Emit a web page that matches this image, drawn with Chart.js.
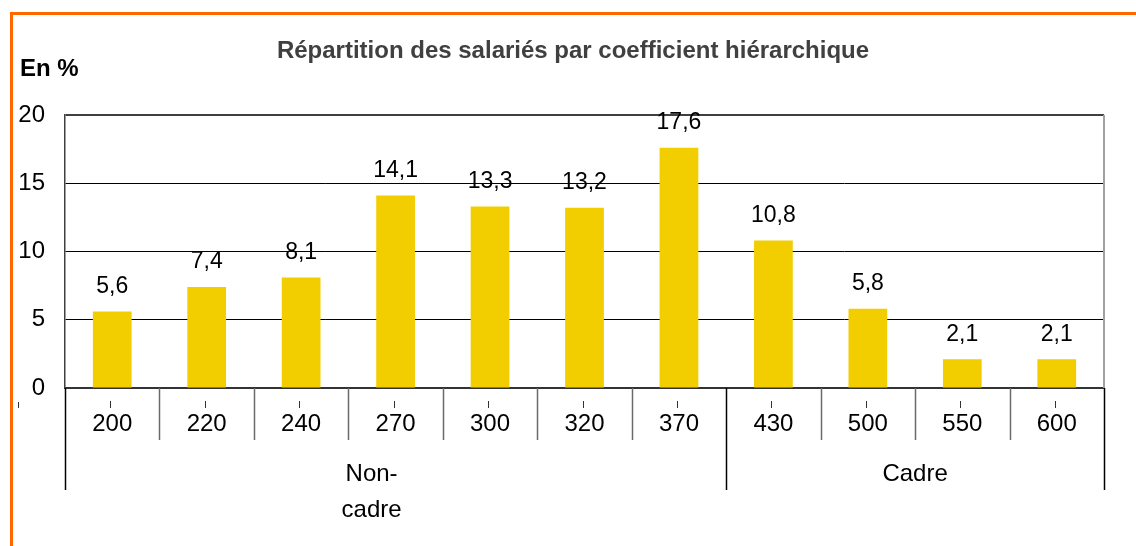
<!DOCTYPE html>
<html>
<head>
<meta charset="utf-8">
<script src="https://cdn.jsdelivr.net/npm/chart.js@4"></script>
<style>
  html, body { margin: 0; padding: 0; background: #fff; }
  canvas { display: block; }
</style>
</head>
<body>
<canvas id="chart" width="1136" height="546"></canvas>
<script>
const coefficients = ['200', '220', '240', '270', '300', '320', '370', '430', '500', '550', '600'];
const shares = [5.6, 7.4, 8.1, 14.1, 13.3, 13.2, 17.6, 10.8, 5.8, 2.1, 2.1];
const groupLabels = [['Non-', 'cadre'], ['Cadre']];
const groupSizes = [7, 4];
const yTicks = [0, 5, 10, 15, 20];

const FONT = 'Liberation Sans, Arial, sans-serif';

const decorations = {
  id: 'decorations',
  afterDraw(chart) {
    const { ctx, chartArea, scales } = chart;
    const xs = scales.x;
    const n = coefficients.length;

    // category boundaries under the axis
    const boundary = (i) => {
      if (i === 0) return xs.left;
      if (i === n) return xs.right;
      return (xs.getPixelForValue(i - 1) + xs.getPixelForValue(i)) / 2;
    };
    const groupEdges = [0];
    groupSizes.forEach((s) => groupEdges.push(groupEdges[groupEdges.length - 1] + s));

    ctx.save();
    ctx.lineWidth = 1.5;
    for (let i = 0; i <= n; i++) {
      const x = Math.round(boundary(i)) + 0.5;
      const isGroup = groupEdges.includes(i);
      ctx.strokeStyle = isGroup ? '#000' : '#6a6a6a';
      ctx.beginPath();
      ctx.moveTo(x, chartArea.bottom);
      ctx.lineTo(x, isGroup ? 490 : 440);
      ctx.stroke();
    }

    // small marks above the category labels
    ctx.strokeStyle = '#333';
    ctx.lineWidth = 1;
    for (let i = 0; i < n; i++) {
      const x = Math.round(xs.getPixelForValue(i)) - 1.5;
      ctx.beginPath();
      ctx.moveTo(x, 401);
      ctx.lineTo(x, 408);
      ctx.stroke();
    }
    ctx.beginPath();
    ctx.moveTo(18.5, 402);
    ctx.lineTo(18.5, 408);
    ctx.stroke();

    // right border of the plot
    ctx.strokeStyle = '#a0a0a0';
    ctx.lineWidth = 2;
    ctx.beginPath();
    ctx.moveTo(chartArea.right, chartArea.top);
    ctx.lineTo(chartArea.right, chartArea.bottom);
    ctx.stroke();

    // group labels
    ctx.fillStyle = '#000';
    ctx.font = '24px ' + FONT;
    ctx.textAlign = 'center';
    ctx.textBaseline = 'middle';
    groupLabels.forEach((lines, g) => {
      let cx = (boundary(groupEdges[g]) + boundary(groupEdges[g + 1])) / 2;
      if (lines.length > 1) cx -= 24;
      lines.forEach((line, k) => ctx.fillText(line, cx, 474 + k * 36));
    });

    // value labels
    ctx.font = '23px ' + FONT;
    const meta = chart.getDatasetMeta(0);
    meta.data.forEach((bar, i) => {
      ctx.fillText(shares[i].toFixed(1).replace('.', ','), bar.x, bar.y - 25);
    });

    // unit and title
    ctx.font = 'bold 24px ' + FONT;
    ctx.textAlign = 'left';
    ctx.fillText('En %', 20, 69);
    ctx.fillStyle = '#404040';
    ctx.textAlign = 'center';
    ctx.fillText('Répartition des salariés par coefficient hiérarchique', 573, 51);

    // orange frame
    ctx.strokeStyle = '#ff6600';
    ctx.lineWidth = 3;
    ctx.beginPath();
    ctx.moveTo(11.5, 546);
    ctx.lineTo(11.5, 13.5);
    ctx.lineTo(1136, 13.5);
    ctx.stroke();
    ctx.restore();
  },
};

new Chart(document.getElementById('chart'), {
  type: 'bar',
  data: {
    labels: coefficients,
    datasets: [
      {
        data: shares,
        backgroundColor: '#f2cd00',
        borderWidth: 0,
        categoryPercentage: 1,
        barPercentage: 0.41,
      },
    ],
  },
  options: {
    responsive: false,
    animation: false,
    layout: { padding: { top: 115, left: 15, right: 32, bottom: 0 } },
    plugins: {
      legend: { display: false },
      tooltip: { enabled: false },
    },
    scales: {
      x: {
        grid: { display: false },
        border: { display: true, color: '#333', width: 2 },
        ticks: { color: '#000', font: { family: FONT, size: 24 }, padding: 14, maxRotation: 0 },
        afterFit: (scale) => { scale.height = 158; },
      },
      y: {
        min: 0,
        max: 20,
        afterBuildTicks: (scale) => { scale.ticks = yTicks.map((v) => ({ value: v })); },
        grid: {
          color: (c) => (c.tick && c.tick.value === 20 ? '#404040' : '#000'),
          lineWidth: (c) => (c.tick && c.tick.value === 20 ? 2 : 1),
          drawTicks: false,
        },
        border: { display: true, color: '#404040', width: 1.5 },
        ticks: { color: '#000', font: { family: FONT, size: 24 }, padding: 20 },
        afterFit: (scale) => { scale.width = 50; },
      },
    },
  },
  plugins: [decorations],
});
</script>
</body>
</html>
